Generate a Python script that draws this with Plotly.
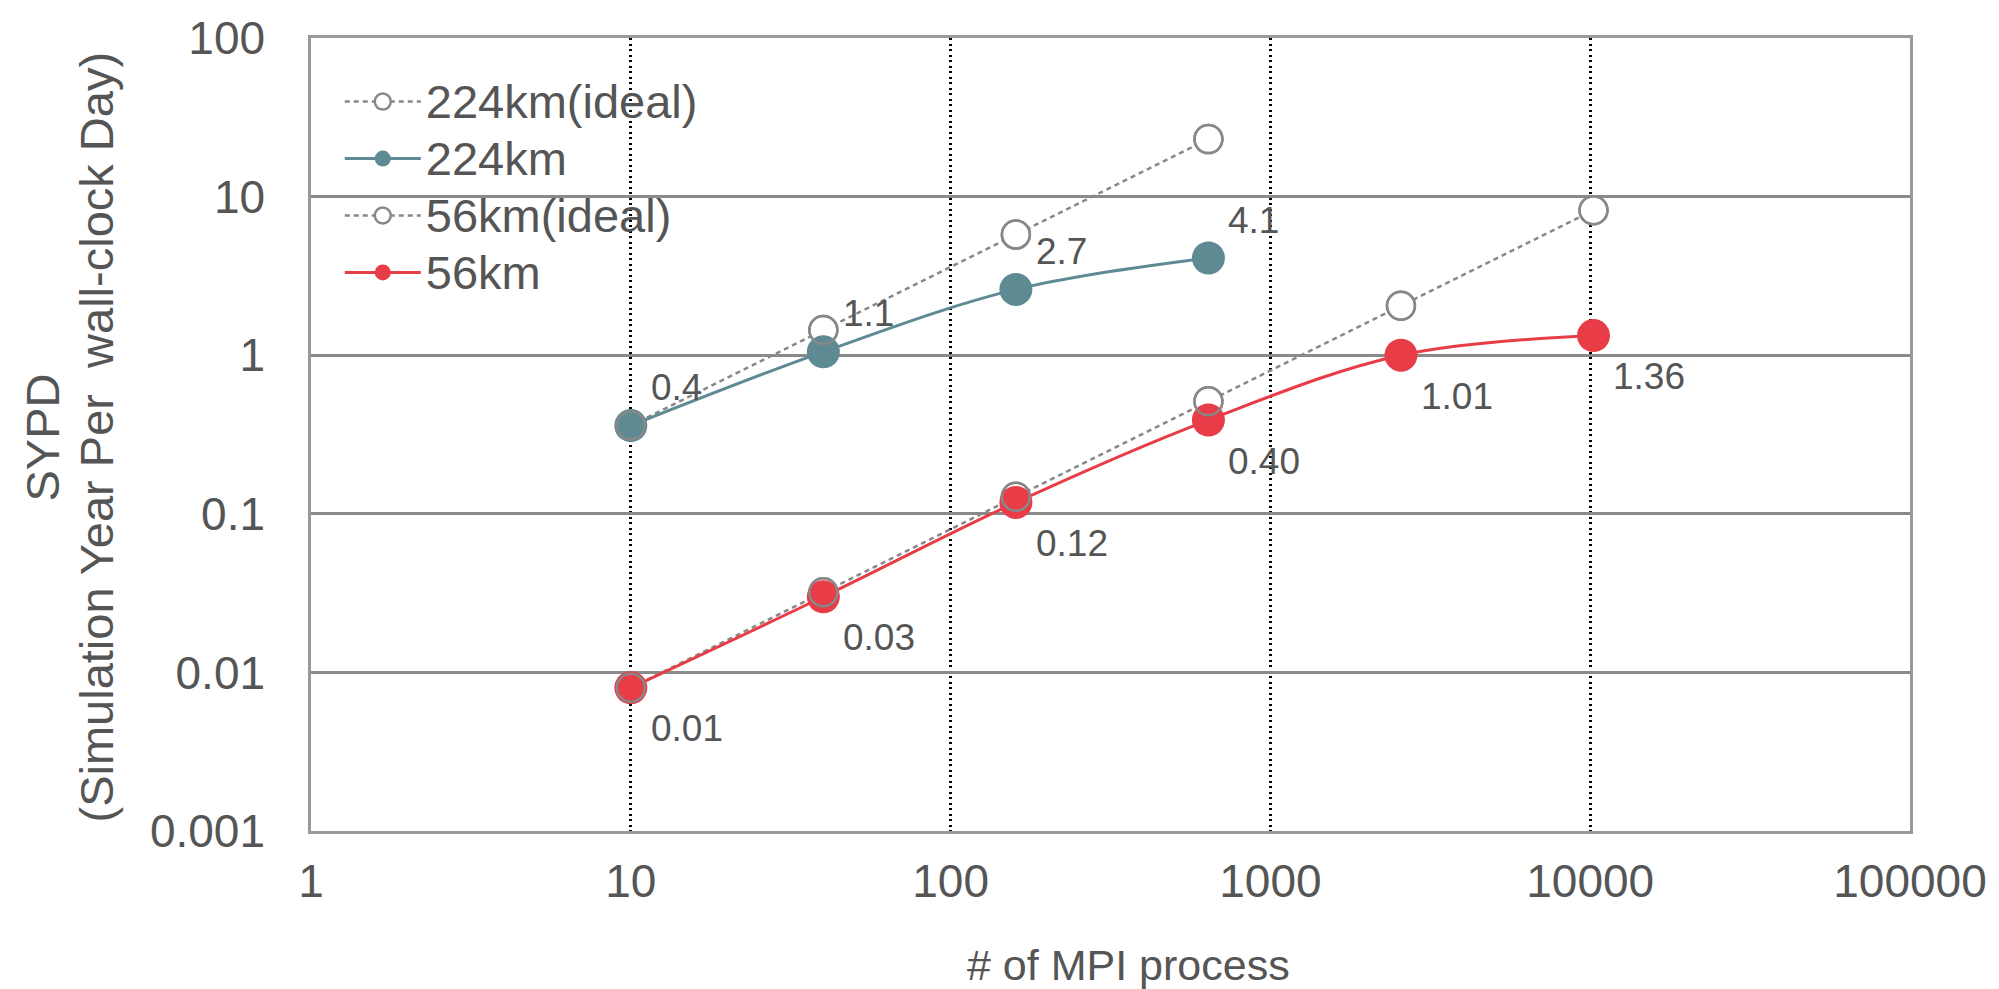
import numpy as np
import plotly.graph_objects as go

# ---- data ----
mpi_224 = [10, 40, 160, 640]
sypd_224_ideal = [0.36, 1.44, 5.76, 23.04]
sypd_224 = [0.36, 1.05, 2.6, 4.1]
labels_224 = ["0.4", "1.1", "2.7", "4.1"]

mpi_56 = [10, 40, 160, 640, 2560, 10240]
sypd_56_ideal = [0.008, 0.032, 0.128, 0.512, 2.048, 8.192]
sypd_56 = [0.008, 0.030, 0.118, 0.39, 1.0, 1.33]
labels_56 = ["0.01", "0.03", "0.12", "0.40", "1.01", "1.36"]

series_names = ["224km(ideal)", "224km", "56km(ideal)", "56km"]

x_ticks = [1, 10, 100, 1000, 10000, 100000]
x_ticktext = ["1", "10", "100", "1000", "10000", "100000"]
y_ticks = [0.001, 0.01, 0.1, 1, 10, 100]
y_ticktext = ["0.001", "0.01", "0.1", "1", "10", "100"]

x_title = "# of MPI process"
y_title_lines = ["SYPD", "(Simulation Year Per\u00a0 wall-clock Day)"]

TEAL = "#5E8B93"
RED = "#E83C46"
GRAY = "#888888"
TXT = "#555555"
FONT = "Liberation Sans, Arial, Helvetica, sans-serif"


def legend_name(s):
    # larger glyphs than the legend row pitch would normally allow
    return '<span style="font-size:47px">' + s + '</span>'


fig = go.Figure()

ideal_marker = dict(symbol="circle", size=28, color="white", line=dict(color=GRAY, width=2.5))
ring_marker = dict(symbol="circle", size=28, color="rgba(0,0,0,0)", line=dict(color=GRAY, width=2.5))

fig.add_trace(go.Scatter(
    x=mpi_224, y=sypd_224_ideal, name=legend_name(series_names[0]), mode="lines+markers",
    line=dict(color=GRAY, width=2.5, dash="5px,4px"), marker=ideal_marker))
fig.add_trace(go.Scatter(
    x=mpi_224, y=sypd_224, name=legend_name(series_names[1]), mode="lines+markers",
    line=dict(color=TEAL, width=3, shape="spline", smoothing=1),
    marker=dict(symbol="circle", size=33, color=TEAL)))
fig.add_trace(go.Scatter(
    x=mpi_56, y=sypd_56_ideal, name=legend_name(series_names[2]), mode="lines+markers",
    line=dict(color=GRAY, width=2.5, dash="5px,4px"), marker=ideal_marker))
fig.add_trace(go.Scatter(
    x=mpi_56, y=sypd_56, name=legend_name(series_names[3]), mode="lines+markers",
    line=dict(color=RED, width=3, shape="spline", smoothing=1),
    marker=dict(symbol="circle", size=33, color=RED)))
# open rings of the ideal series drawn over the filled markers (as in the original)
fig.add_trace(go.Scatter(x=mpi_224, y=sypd_224_ideal, mode="markers", marker=ring_marker,
                         showlegend=False, hoverinfo="skip"))
fig.add_trace(go.Scatter(x=mpi_56, y=sypd_56_ideal, mode="markers", marker=ring_marker,
                         showlegend=False, hoverinfo="skip"))

annotations = []
for xv, yv, t in zip(mpi_224, sypd_224, labels_224):
    annotations.append(dict(x=np.log10(xv), y=np.log10(yv), xref="x", yref="y", text=t,
                            showarrow=False, xanchor="left", yanchor="middle",
                            xshift=18, yshift=38, font=dict(size=37, color=TXT, family=FONT)))
for xv, yv, t in zip(mpi_56, sypd_56, labels_56):
    annotations.append(dict(x=np.log10(xv), y=np.log10(yv), xref="x", yref="y", text=t,
                            showarrow=False, xanchor="left", yanchor="middle",
                            xshift=18, yshift=-41, font=dict(size=37, color=TXT, family=FONT)))
# x-axis title (slightly right of centre, as in the original)
annotations.append(dict(x=0.5, y=0, xref="paper", yref="paper", text=x_title,
                        showarrow=False, xanchor="center", yanchor="middle",
                        xshift=18, yshift=-134, font=dict(size=43, color=TXT, family=FONT)))
# y-axis title, two rotated lines
for txt, xs in zip(y_title_lines, [-269, -215]):
    annotations.append(dict(x=0, y=0.5, xref="paper", yref="paper", text=txt,
                            showarrow=False, xanchor="center", yanchor="middle", textangle=-90,
                            xshift=xs, yshift=-3, font=dict(size=47, color=TXT, family=FONT)))

fig.update_layout(
    width=1999, height=989,
    margin=dict(l=311, r=85, t=31, b=158, pad=0),
    paper_bgcolor="white", plot_bgcolor="white",
    font=dict(family=FONT, color=TXT, size=46),
    showlegend=True,
    legend=dict(x=0.018, y=0.962, xanchor="left", yanchor="top", bgcolor="rgba(0,0,0,0)",
                font=dict(size=41.5, color=TXT, family=FONT), itemwidth=76, tracegroupgap=0),
    annotations=annotations,
)

fig.update_xaxes(
    type="log", range=[0, 5], tickvals=x_ticks, ticktext=x_ticktext,
    showgrid=True, gridcolor="black", gridwidth=2.5, griddash="2px,3.5px",
    showline=True, linecolor="#999999", linewidth=2.5, mirror=True,
    ticks="", ticklabelstandoff=8, tickfont=dict(size=46, color=TXT),
    ticklabeloverflow="allow", zeroline=False,
)
fig.update_yaxes(
    type="log", range=[-3, 2], tickvals=y_ticks, ticktext=y_ticktext,
    showgrid=True, gridcolor="#8a8a8a", gridwidth=2.5,
    showline=True, linecolor="#999999", linewidth=2.5, mirror=True,
    ticks="", ticklabelstandoff=34, tickfont=dict(size=46, color=TXT),
    ticklabeloverflow="allow", zeroline=False,
)

fig.write_html("out.html", config={"displayModeBar": False},
               post_script="document.body.style.margin='0';")
